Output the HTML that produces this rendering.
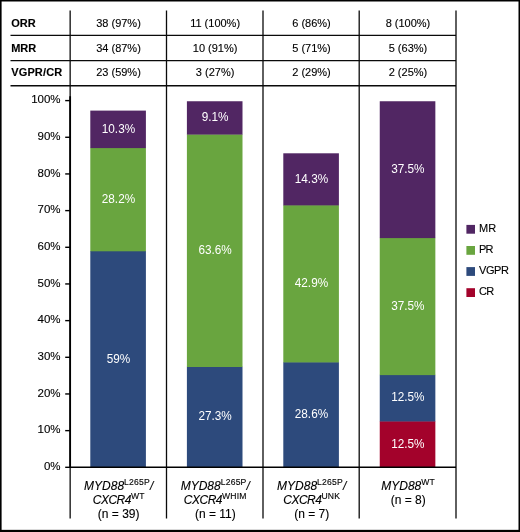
<!DOCTYPE html><html><head><meta charset="utf-8"><title>Response rates</title><style>html,body{margin:0;padding:0;background:#fff}svg{display:block}text{font-family:"Liberation Sans",Arial,sans-serif;fill:#000;stroke:#000;stroke-width:0.12px}</style></head><body>
<svg width="520" height="532" viewBox="0 0 520 532">
<rect x="0" y="0" width="520" height="532" fill="#fff"/>
<rect x="0" y="0" width="520" height="1.5" fill="#000"/>
<rect x="0" y="0" width="1.6" height="532" fill="#000"/>
<rect x="518.5" y="0" width="1.5" height="532" fill="#000"/>
<rect x="0" y="529.85" width="520" height="2.15" fill="#000"/>
<rect x="90.30" y="251.00" width="55.6" height="216.20" fill="#2d4a7c"/>
<text transform="translate(118.45,362.55) scale(0.965,1)" x="0" y="0" font-size="12.2" text-anchor="middle" style="fill:#fff;stroke:none">59%</text>
<rect x="90.30" y="147.80" width="55.6" height="103.50" fill="#69a53f"/>
<text transform="translate(118.45,202.85) scale(0.965,1)" x="0" y="0" font-size="12.2" text-anchor="middle" style="fill:#fff;stroke:none">28.2%</text>
<rect x="90.30" y="110.60" width="55.6" height="37.50" fill="#512663"/>
<text transform="translate(118.45,132.65) scale(0.965,1)" x="0" y="0" font-size="12.2" text-anchor="middle" style="fill:#fff;stroke:none">10.3%</text>
<rect x="186.90" y="366.70" width="55.6" height="100.50" fill="#2d4a7c"/>
<text transform="translate(215.05,420.40) scale(0.965,1)" x="0" y="0" font-size="12.2" text-anchor="middle" style="fill:#fff;stroke:none">27.3%</text>
<rect x="186.90" y="134.30" width="55.6" height="232.70" fill="#69a53f"/>
<text transform="translate(215.05,253.95) scale(0.965,1)" x="0" y="0" font-size="12.2" text-anchor="middle" style="fill:#fff;stroke:none">63.6%</text>
<rect x="186.90" y="101.25" width="55.6" height="33.35" fill="#512663"/>
<text transform="translate(215.05,121.23) scale(0.965,1)" x="0" y="0" font-size="12.2" text-anchor="middle" style="fill:#fff;stroke:none">9.1%</text>
<rect x="283.30" y="362.10" width="55.6" height="105.10" fill="#2d4a7c"/>
<text transform="translate(311.45,418.10) scale(0.965,1)" x="0" y="0" font-size="12.2" text-anchor="middle" style="fill:#fff;stroke:none">28.6%</text>
<rect x="283.30" y="205.10" width="55.6" height="157.30" fill="#69a53f"/>
<text transform="translate(311.45,287.05) scale(0.965,1)" x="0" y="0" font-size="12.2" text-anchor="middle" style="fill:#fff;stroke:none">42.9%</text>
<rect x="283.30" y="153.30" width="55.6" height="52.10" fill="#512663"/>
<text transform="translate(311.45,182.65) scale(0.965,1)" x="0" y="0" font-size="12.2" text-anchor="middle" style="fill:#fff;stroke:none">14.3%</text>
<rect x="379.75" y="421.15" width="55.6" height="46.05" fill="#a3022b"/>
<text transform="translate(407.90,447.62) scale(0.965,1)" x="0" y="0" font-size="12.2" text-anchor="middle" style="fill:#fff;stroke:none">12.5%</text>
<rect x="379.75" y="374.80" width="55.6" height="46.65" fill="#2d4a7c"/>
<text transform="translate(407.90,401.43) scale(0.965,1)" x="0" y="0" font-size="12.2" text-anchor="middle" style="fill:#fff;stroke:none">12.5%</text>
<rect x="379.75" y="237.80" width="55.6" height="137.30" fill="#69a53f"/>
<text transform="translate(407.90,309.75) scale(0.965,1)" x="0" y="0" font-size="12.2" text-anchor="middle" style="fill:#fff;stroke:none">37.5%</text>
<rect x="379.75" y="101.25" width="55.6" height="136.85" fill="#512663"/>
<text transform="translate(407.90,172.97) scale(0.965,1)" x="0" y="0" font-size="12.2" text-anchor="middle" style="fill:#fff;stroke:none">37.5%</text>
<line x1="70.15" y1="10.5" x2="70.15" y2="518.4" stroke="#0a0a0a" stroke-width="1.3"/>
<line x1="166.5" y1="10.5" x2="166.5" y2="518.4" stroke="#0a0a0a" stroke-width="1.3"/>
<line x1="263.0" y1="10.5" x2="263.0" y2="518.4" stroke="#0a0a0a" stroke-width="1.3"/>
<line x1="359.2" y1="10.5" x2="359.2" y2="518.4" stroke="#0a0a0a" stroke-width="1.3"/>
<line x1="456.0" y1="10.5" x2="456.0" y2="518.4" stroke="#0a0a0a" stroke-width="1.3"/>
<line x1="10.5" y1="35.4" x2="456.0" y2="35.4" stroke="#0a0a0a" stroke-width="1.3"/>
<line x1="10.5" y1="60.6" x2="456.0" y2="60.6" stroke="#0a0a0a" stroke-width="1.3"/>
<line x1="10.5" y1="85.75" x2="456.0" y2="85.75" stroke="#0a0a0a" stroke-width="1.3"/>
<line x1="70.15" y1="96.2" x2="70.15" y2="468.0" stroke="#000" stroke-width="1.8"/>
<line x1="70.15" y1="467.3" x2="456.0" y2="467.3" stroke="#000" stroke-width="1.4"/>
<line x1="65.2" y1="467.30" x2="70.15" y2="467.30" stroke="#000" stroke-width="1.4"/>
<text x="60.6" y="470.10" font-size="11.5" text-anchor="end">0%</text>
<line x1="65.2" y1="430.63" x2="70.15" y2="430.63" stroke="#000" stroke-width="1.4"/>
<text x="60.6" y="433.43" font-size="11.5" text-anchor="end">10%</text>
<line x1="65.2" y1="393.96" x2="70.15" y2="393.96" stroke="#000" stroke-width="1.4"/>
<text x="60.6" y="396.76" font-size="11.5" text-anchor="end">20%</text>
<line x1="65.2" y1="357.29" x2="70.15" y2="357.29" stroke="#000" stroke-width="1.4"/>
<text x="60.6" y="360.09" font-size="11.5" text-anchor="end">30%</text>
<line x1="65.2" y1="320.62" x2="70.15" y2="320.62" stroke="#000" stroke-width="1.4"/>
<text x="60.6" y="323.42" font-size="11.5" text-anchor="end">40%</text>
<line x1="65.2" y1="283.95" x2="70.15" y2="283.95" stroke="#000" stroke-width="1.4"/>
<text x="60.6" y="286.75" font-size="11.5" text-anchor="end">50%</text>
<line x1="65.2" y1="247.28" x2="70.15" y2="247.28" stroke="#000" stroke-width="1.4"/>
<text x="60.6" y="250.08" font-size="11.5" text-anchor="end">60%</text>
<line x1="65.2" y1="210.61" x2="70.15" y2="210.61" stroke="#000" stroke-width="1.4"/>
<text x="60.6" y="213.41" font-size="11.5" text-anchor="end">70%</text>
<line x1="65.2" y1="173.94" x2="70.15" y2="173.94" stroke="#000" stroke-width="1.4"/>
<text x="60.6" y="176.74" font-size="11.5" text-anchor="end">80%</text>
<line x1="65.2" y1="137.27" x2="70.15" y2="137.27" stroke="#000" stroke-width="1.4"/>
<text x="60.6" y="140.07" font-size="11.5" text-anchor="end">90%</text>
<line x1="65.2" y1="100.60" x2="70.15" y2="100.60" stroke="#000" stroke-width="1.4"/>
<text x="60.6" y="103.40" font-size="11.5" text-anchor="end">100%</text>
<text x="11.2" y="26.8" font-size="11" font-weight="bold" letter-spacing="0" style="fill:#000">ORR</text>
<text x="118.50" y="26.8" font-size="11" text-anchor="middle">38 (97%)</text>
<text x="215.10" y="26.8" font-size="11" text-anchor="middle">11 (100%)</text>
<text x="311.50" y="26.8" font-size="11" text-anchor="middle">6 (86%)</text>
<text x="407.95" y="26.8" font-size="11" text-anchor="middle">8 (100%)</text>
<text x="11.2" y="51.5" font-size="11" font-weight="bold" letter-spacing="0" style="fill:#000">MRR</text>
<text x="118.50" y="51.5" font-size="11" text-anchor="middle">34 (87%)</text>
<text x="215.10" y="51.5" font-size="11" text-anchor="middle">10 (91%)</text>
<text x="311.50" y="51.5" font-size="11" text-anchor="middle">5 (71%)</text>
<text x="407.95" y="51.5" font-size="11" text-anchor="middle">5 (63%)</text>
<text x="11.2" y="76.3" font-size="11" font-weight="bold" letter-spacing="0.15" style="fill:#000">VGPR/CR</text>
<text x="118.50" y="76.3" font-size="11" text-anchor="middle">23 (59%)</text>
<text x="215.10" y="76.3" font-size="11" text-anchor="middle">3 (27%)</text>
<text x="311.50" y="76.3" font-size="11" text-anchor="middle">2 (29%)</text>
<text x="407.95" y="76.3" font-size="11" text-anchor="middle">2 (25%)</text>
<text x="118.70" y="490" font-size="12" font-style="italic" text-anchor="middle">MYD88<tspan font-size="8.6" font-style="normal" letter-spacing="0.2" dy="-4.8">L265P</tspan><tspan dy="4.8">/</tspan></text>
<text x="118.70" y="503.8" font-size="12" font-style="italic" text-anchor="middle"><tspan letter-spacing="-0.5">CXCR4</tspan><tspan font-size="8.6" font-style="normal" letter-spacing="0.2" dy="-4.8">WT</tspan></text>
<text x="118.70" y="518" font-size="12" text-anchor="middle">(n = 39)</text>
<text x="215.30" y="490" font-size="12" font-style="italic" text-anchor="middle">MYD88<tspan font-size="8.6" font-style="normal" letter-spacing="0.2" dy="-4.8">L265P</tspan><tspan dy="4.8">/</tspan></text>
<text x="215.30" y="503.8" font-size="12" font-style="italic" text-anchor="middle"><tspan letter-spacing="-0.5">CXCR4</tspan><tspan font-size="8.6" font-style="normal" letter-spacing="0.2" dy="-4.8">WHIM</tspan></text>
<text x="215.30" y="518" font-size="12" text-anchor="middle">(n = 11)</text>
<text x="311.70" y="490" font-size="12" font-style="italic" text-anchor="middle">MYD88<tspan font-size="8.6" font-style="normal" letter-spacing="0.2" dy="-4.8">L265P</tspan><tspan dy="4.8">/</tspan></text>
<text x="311.70" y="503.8" font-size="12" font-style="italic" text-anchor="middle"><tspan letter-spacing="-0.5">CXCR4</tspan><tspan font-size="8.6" font-style="normal" letter-spacing="0.2" dy="-4.8">UNK</tspan></text>
<text x="311.70" y="518" font-size="12" text-anchor="middle">(n = 7)</text>
<text x="408.15" y="490" font-size="12" font-style="italic" text-anchor="middle">MYD88<tspan font-size="8.6" font-style="normal" letter-spacing="0.2" dy="-4.8">WT</tspan></text>
<text x="408.15" y="503.8" font-size="12" text-anchor="middle">(n = 8)</text>
<rect x="466.4" y="224.90" width="8.6" height="8.8" fill="#512663"/>
<text x="479" y="232.00" font-size="11" letter-spacing="0.15">MR</text>
<rect x="466.4" y="246.00" width="8.6" height="8.8" fill="#69a53f"/>
<text x="479" y="253.10" font-size="11" letter-spacing="-0.9">PR</text>
<rect x="466.4" y="267.10" width="8.6" height="8.8" fill="#2d4a7c"/>
<text x="479" y="274.20" font-size="11" letter-spacing="-0.45">VGPR</text>
<rect x="466.4" y="288.20" width="8.6" height="8.8" fill="#a3022b"/>
<text x="479" y="295.30" font-size="11" letter-spacing="-0.7">CR</text>
</svg></body></html>
